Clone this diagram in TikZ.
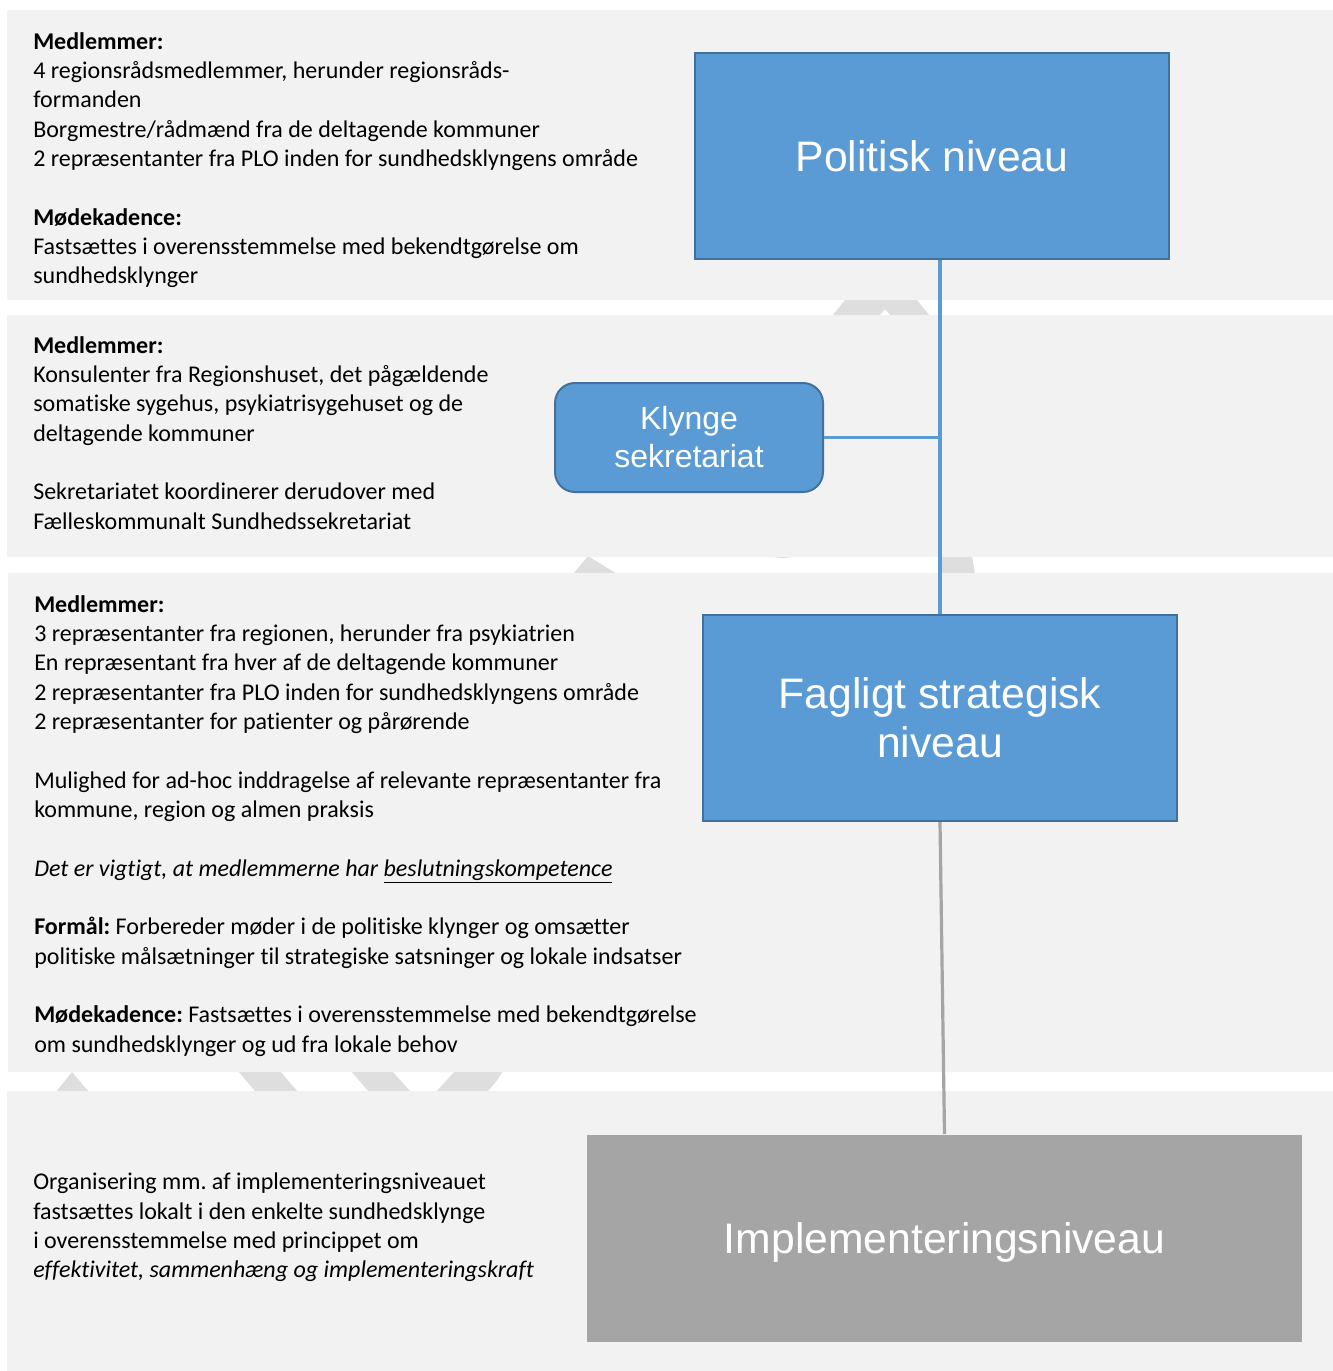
\documentclass[tikz,border=0pt]{standalone}
\usepackage{fontspec}
\setmainfont{Carlito}[Ligatures=NoCommon]
\newfontfamily\boxfont{Liberation Sans}
\usetikzlibrary{positioning}
\frenchspacing

\definecolor{bandgray}{HTML}{F2F2F2}
\definecolor{shadegray}{HTML}{DEDEDE}
\definecolor{boxblue}{HTML}{5B9BD5}
\definecolor{boxedge}{HTML}{41719C}
\definecolor{implgray}{HTML}{A5A5A5}

\begin{document}
\begin{tikzpicture}[x=0.75pt, y=-0.75pt,
  band/.style={fill=bandgray, draw=none, rounded corners=1.5pt},
  shade/.style={fill=shadegray, draw=none},
  lvlbox/.style={rectangle, draw=boxedge, line width=1.5pt, fill=boxblue, text=white,
    align=center, font=\boxfont\fontsize{32}{36.75}\selectfont,
    minimum width=355.5pt, minimum height=154.5pt, inner sep=0pt},
  secbox/.style={lvlbox, rounded corners=15pt, font=\boxfont\fontsize{24}{28.5}\selectfont,
    minimum width=201pt, minimum height=81.75pt},
  implbox/.style={lvlbox, draw=none, fill=implgray, minimum width=536.25pt,
    minimum height=155.25pt, text depth=0pt},
  txt/.style={anchor=north west, align=left, inner sep=0pt,
    font=\fontsize{18}{22}\selectfont},
  blueline/.style={draw=boxblue, line width=2.4pt},
  grayline/.style={draw=implgray, line width=2.4pt},
]
\useasboundingbox (0,0) rectangle (1333,1371);

%% ── Shapes showing between the bands ──
\fill[shade] (833,315) -- (845,300) -- (917,300) -- (929,315) -- (890,315) -- (885,309) -- (880,315) -- cycle;
\fill[shade] (573,574) -- (588,556) -- (617,574) -- cycle;
\fill[shade] (770,556) .. controls (782,559) .. (795,556) -- cycle;
\fill[shade] (942,556) -- (972,556) -- (975,574) -- (942,574) -- cycle;
\fill[shade] (56,1092) -- (72,1072) -- (89,1092) -- cycle;
\fill[shade] (238,1071) -- (280,1071) -- (298,1092) -- (256,1092) -- cycle;
\fill[shade] (351,1071) -- (392,1071) -- (411,1092) -- (369,1092) -- cycle;
\fill[shade] (455,1071) -- (503,1071) .. controls (496,1082) .. (487,1092) -- (436,1092) -- cycle;

%% ── Bands ──
\fill[band] (7,10) rectangle (1340,300);
\fill[band] (7,315) rectangle (1340,557);
\fill[band] (8,573) rectangle (1340,1072);
\fill[band] (7,1091) rectangle (1340,1380);

%% ── Level boxes ──
\node[lvlbox] (pol)   at (932,156)    {Politisk niveau};
\node[secbox] (sek)   at (689,437.5)  {Klynge\\sekretariat};
\node[lvlbox] (fag)   at (940,718)    {Fagligt strategisk\\niveau};
\node[implbox] (impl) at (944.5,1238.5) {Implementeringsniveau};

%% ── Connectors ──
\draw[blueline] (fag.north |- pol.south) -- (fag.north);
\draw[blueline] (sek.east) -- (sek.east -| fag.north);
\draw[grayline] (fag.south) -- (impl.north);

%% ── Band texts ──
\node[txt] (t1) at (33,32) {\textbf{Medlemmer:}\\
  4 regionsrådsmedlemmer, herunder regionsråds-\\
  formanden\\
  Borgmestre/rådmænd fra de deltagende kommuner\\
  2 repræsentanter fra PLO inden for sundhedsklyngens område\\[22pt]
  \textbf{Mødekadence:}\\
  Fastsættes i overensstemmelse med bekendtgørelse om\\
  sundhedsklynger};
\node[txt] (t2) at (33,336) {\textbf{Medlemmer:}\\
  Konsulenter fra Regionshuset, det pågældende\\
  somatiske sygehus, psykiatrisygehuset og de\\
  deltagende kommuner\\[22pt]
  Sekretariatet koordinerer derudover med\\
  Fælleskommunalt Sundhedssekretariat};
\node[txt] (t3) at (34,595) {\textbf{Medlemmer:}\\
  3 repræsentanter fra regionen, herunder fra psykiatrien\\
  En repræsentant fra hver af de deltagende kommuner\\
  2 repræsentanter fra PLO inden for sundhedsklyngens område\\
  2 repræsentanter for patienter og pårørende\\[22pt]
  Mulighed for ad-hoc inddragelse af relevante repræsentanter fra\\
  kommune, region og almen praksis\\[22pt]
  \textit{Det er vigtigt, at medlemmerne har \underline{beslutningskompetence}}\\[22pt]
  \textbf{Formål:} Forbereder møder i de politiske klynger og omsætter\\
  politiske målsætninger til strategiske satsninger og lokale indsatser\\[22pt]
  \textbf{Mødekadence:} Fastsættes i overensstemmelse med bekendtgørelse\\
  om sundhedsklynger og ud fra lokale behov};
\node[txt] (t4) at (33,1173) {Organisering mm. af implementeringsniveauet\\
  fastsættes lokalt i den enkelte sundhedsklynge\\
  i overensstemmelse med princippet om\\
  \textit{effektivitet, sammenhæng og implementeringskraft}};
\end{tikzpicture}
\end{document}
